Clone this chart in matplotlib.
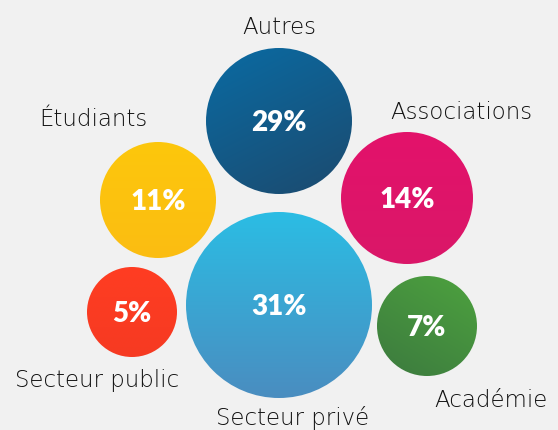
import numpy as np
import matplotlib
matplotlib.use("Agg")
import matplotlib.pyplot as plt
from matplotlib.patches import Circle

# data
categories = ["Autres", "Secteur privé", "Étudiants", "Associations", "Secteur public", "Académie"]
shares = [29, 31, 11, 14, 5, 7]

# layout in pixels (x, y, radius) and label baselines
bubble_xy = [(279, 121), (279, 305), (158, 200), (407, 198), (132, 312), (427, 326)]
bubble_r = [73, 93, 58, 66, 45, 50]
label_xy = [(279, 34), (293, 425), (93, 126), (461, 119), (97, 387), (491, 407)]

# gradient colours: (start, end, direction)
grad = [
    ("#0a6ba3", "#1c4a6e", "diag"),
    ("#2bbde4", "#4a8dc0", "vert"),
    ("#fdc70c", "#fbbd12", "vert"),
    ("#e3126b", "#da1768", "vert"),
    ("#ff3d22", "#f63a22", "vert"),
    ("#4da23e", "#3c7a3f", "diag2"),
]

W, H = 558, 430
fig = plt.figure(figsize=(W / 100, H / 100), dpi=100)
fig.patch.set_facecolor("#f1f1f1")
ax = fig.add_axes([0, 0, 1, 1])
ax.set_xlim(0, W)
ax.set_ylim(H, 0)
ax.axis("off")
ax.set_facecolor("#f1f1f1")


def hex2rgb(h):
    return np.array([int(h[i:i + 2], 16) / 255 for i in (1, 3, 5)])


for (cx, cy), r, (c0, c1, d) in zip(bubble_xy, bubble_r, grad):
    n = 200
    u = np.linspace(0, 1, n)
    xx, yy = np.meshgrid(u, u)
    if d == "vert":
        t = yy
    elif d == "diag":
        t = (xx * 0.5 + yy) / 1.5
    else:
        t = ((1 - xx) * 0.6 + yy) / 1.6
    a, b = hex2rgb(c0), hex2rgb(c1)
    img = a[None, None, :] * (1 - t[..., None]) + b[None, None, :] * t[..., None]
    im = ax.imshow(img, extent=(cx - r, cx + r, cy + r, cy - r), zorder=2, interpolation="bilinear")
    clip = Circle((cx, cy), r, transform=ax.transData, facecolor="none", edgecolor="none")
    ax.add_patch(clip)
    im.set_clip_path(clip)

ax.set_xlim(0, W)
ax.set_ylim(H, 0)

for (cx, cy), v in zip(bubble_xy, shares):
    ax.text(cx, cy + 2, f"{v}%", color="white", fontsize=20, fontweight="heavy",
            family="Lato", ha="center", va="center", zorder=3)

for (lx, ly), name in zip(label_xy, categories):
    ax.text(lx, ly, name, color="#111111", fontsize=16.5, fontweight="light",
            family="DejaVu Sans", ha="center", va="baseline", zorder=3)

fig.savefig("out.png", dpi=100, facecolor=fig.get_facecolor())
